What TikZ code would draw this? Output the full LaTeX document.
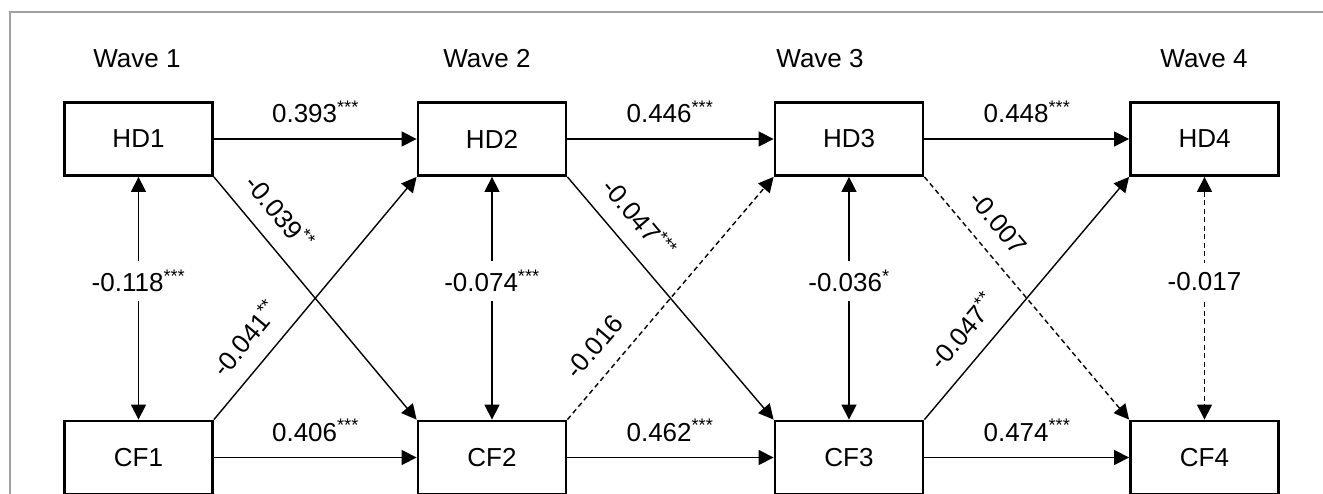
\documentclass[tikz,border=0pt]{standalone}
\usepackage{fontspec}
\setmainfont{Liberation Sans}
\usetikzlibrary{arrows.meta}
\definecolor{framegray}{HTML}{A0A0A0}
\begin{document}
\begin{tikzpicture}[x=1pt,y=-1pt,
  box/.style={draw, line width=2.8pt, minimum width=148pt, minimum height=73pt, inner sep=0pt, font=\fontsize{26}{28}\selectfont},
  lbl/.style={font=\fontsize{26}{28}\selectfont, inner sep=0pt},
  conn/.style={line width=1.4pt, -{Triangle[length=15pt 0 0,width=15pt 0 0]}},
  both/.style={line width=1.4pt, {Triangle[length=15pt 0 0,width=15pt 0 0]}-{Triangle[length=15pt 0 0,width=15pt 0 0]}},
  ns/.style={dash pattern=on 5pt off 3.5pt},
  vl/.style={font=\fontsize{26}{28}\selectfont, fill=white, inner xsep=1pt, inner ysep=9pt, pos=0.43},
  dl/.style={font=\fontsize{26}{28}\selectfont, sloped, anchor=south, inner xsep=0pt, inner ysep=17pt},
]
\useasboundingbox (0,0) rectangle (1323,494);
\clip (0,0) rectangle (1323,494);
\draw[framegray, line width=1.5pt] (10,500) -- (10,12) -- (1330,12);

% wave headers
\node[lbl, anchor=base] (w1) at (137,68) {Wave 1};
\node[lbl, anchor=base] (w2) at (487,68) {Wave 2};
\node[lbl, anchor=base] (w3) at (820,68) {Wave 3};
\node[lbl, anchor=base] (w4) at (1204,68) {Wave 4};

% boxes
\node[box] (hd1) at (138.5,139) {HD1};
\node[box] (hd2) at (492,139) {HD2};
\node[box] (hd3) at (849,139) {HD3};
\node[box] (hd4) at (1204.5,139) {HD4};
\node[box] (cf1) at (138.5,457.5) {CF1};
\node[box] (cf2) at (492,457.5) {CF2};
\node[box] (cf3) at (849,457.5) {CF3};
\node[box] (cf4) at (1204.5,457.5) {CF4};

% horizontal paths
\draw[conn] (hd1) -- (hd2);
\draw[conn] (hd2) -- (hd3);
\draw[conn] (hd3) -- (hd4);
\draw[conn] (cf1) -- (cf2);
\draw[conn] (cf2) -- (cf3);
\draw[conn] (cf3) -- (cf4);
\node[lbl, anchor=base] (l12) at (315.5,123) {0.393\textsuperscript{***}};
\node[lbl, anchor=base] (l23) at (670,123) {0.446\textsuperscript{***}};
\node[lbl, anchor=base] (l34) at (1027,123) {0.448\textsuperscript{***}};
\node[lbl, anchor=base] (m12) at (315.5,441) {0.406\textsuperscript{***}};
\node[lbl, anchor=base] (m23) at (670,441) {0.462\textsuperscript{***}};
\node[lbl, anchor=base] (m34) at (1027,441) {0.474\textsuperscript{***}};

% vertical correlations
\draw[both] (hd1) -- node[vl] {-0.118\textsuperscript{***}} (cf1);
\draw[both] (hd2) -- node[vl] {-0.074\textsuperscript{***}} (cf2);
\draw[both] (hd3) -- node[vl] {-0.036\textsuperscript{*}} (cf3);
\draw[both, ns] (hd4) -- node[vl] {-0.017} (cf4);

% cross-lagged paths
\draw[conn] (hd1.south east) -- node[dl, pos=0.22] {-0.039\textsuperscript{**}} (cf2.north west);
\draw[conn] (cf1.north east) -- node[dl, pos=0.26] {-0.041\textsuperscript{**}} (hd2.south west);
\draw[conn] (hd2.south east) -- node[dl, pos=0.245] {-0.047\textsuperscript{***}} (cf3.north west);
\draw[conn, ns] (cf2.north east) -- node[dl, pos=0.23] {-0.016} (hd3.south west);
\draw[conn, ns] (hd3.south east) -- node[dl, pos=0.26] {-0.007} (cf4.north west);
\draw[conn] (cf3.north east) -- node[dl, pos=0.29] {-0.047\textsuperscript{**}} (hd4.south west);
\end{tikzpicture}
\end{document}
